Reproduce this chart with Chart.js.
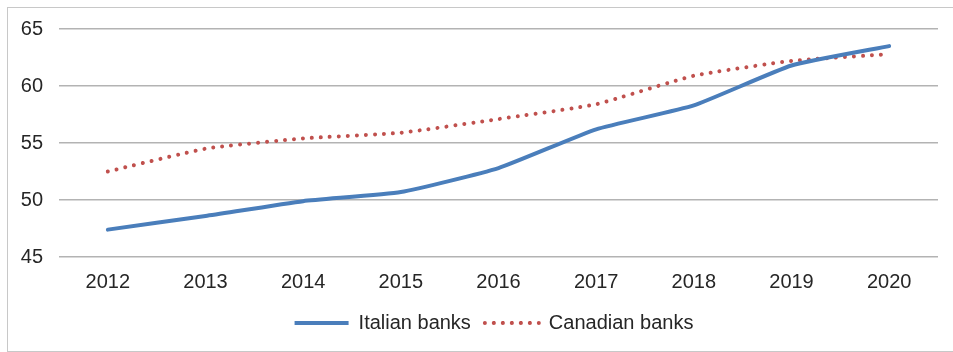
<!DOCTYPE html>
<html>
<head>
<meta charset="utf-8">
<script src="https://cdn.jsdelivr.net/npm/chart.js@4/dist/chart.umd.min.js"></script>
<style>
  html, body { margin: 0; padding: 0; background: #fff; }
  #wrap { position: relative; width: 953px; height: 352px; overflow: hidden; }
  #frame { position: absolute; left: 7px; top: 7px; width: 960px; height: 345px;
           box-sizing: border-box; border: 1px solid #c8c8c8; }
  canvas { position: absolute; left: 0; top: 0; }
</style>
</head>
<body>
<div id="wrap">
  <div id="frame"></div>
  <canvas id="myChart" width="953" height="352"></canvas>
</div>
<script>
// years on the x axis
const years = ["2012", "2013", "2014", "2015", "2016", "2017", "2018", "2019", "2020"];
// values
const italianBanks = [47.4, 48.6, 49.9, 50.7, 52.8, 56.2, 58.3, 61.8, 63.5];
const canadianBanks = [52.5, 54.5, 55.4, 55.9, 57.1, 58.4, 60.9, 62.2, 62.8];
// y axis range
const yMin = 45, yMax = 65, yStep = 5;

Chart.defaults.font.family = "'Liberation Sans', Arial, sans-serif";
Chart.defaults.font.size = 20;
Chart.defaults.color = "#262626";

// the original legend sits a bit right of the centre, nudge it over
const legendShift = {
  id: 'legendShift',
  afterLayout(chart) {
    chart.legend.left += 25;
    chart.legend.right += 25;
  }
};

var ctx = document.getElementById('myChart').getContext('2d');
var myChart = new Chart(ctx, {
  type: 'line',
  data: {
    labels: years,
    datasets: [{
      label: "Italian banks",
      data: italianBanks,
      borderColor: "#4a7ebb",
      backgroundColor: "#4a7ebb",
      borderWidth: 4,
      borderCapStyle: 'round',
      pointRadius: 0,
      tension: 0.15
    }, {
      label: "Canadian banks",
      data: canadianBanks,
      borderColor: "#c0504d",
      backgroundColor: "#c0504d",
      borderWidth: 4,
      borderDash: [0.01, 9],
      borderCapStyle: 'round',
      pointRadius: 0,
      tension: 0.15
    }]
  },
  plugins: [legendShift],
  options: {
    responsive: false,
    animation: false,
    layout: { padding: { top: 29, right: 15, bottom: 9, left: 0 } },
    plugins: {
      tooltip: { enabled: false },
      legend: {
        position: 'bottom',
        labels: {
          boxWidth: 54,
          boxHeight: 0,
          padding: 14
        }
      }
    },
    scales: {
      x: {
        offset: true,
        grid: { display: false },
        border: { display: false },
        ticks: { padding: 5, maxRotation: 0 }
      },
      y: {
        min: yMin,
        max: yMax,
        ticks: { stepSize: yStep, padding: 16 },
        grid: { color: "#b3b3b3", lineWidth: 1.5, drawTicks: false },
        border: { display: false },
        afterFit: function(scale) { scale.width = 59; }
      }
    }
  }
});
</script>
</body>
</html>
